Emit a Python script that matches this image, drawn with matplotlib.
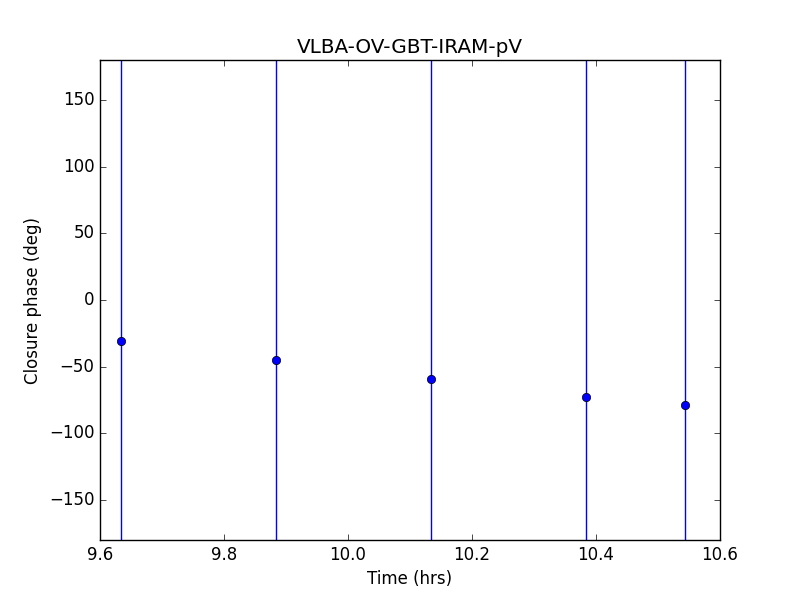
import matplotlib
matplotlib.use('Agg')
import matplotlib.pyplot as plt

# Closure phase data
times = [9.634, 9.884, 10.134, 10.384, 10.544]
phases = [-30.8, -45.0, -59.3, -72.8, -78.8]
errors = [400, 400, 400, 400, 400]

plt.style.use('classic')
fig = plt.figure(figsize=(8, 6), dpi=100, facecolor='white')
ax = fig.add_subplot(111)

# Error bars are huge, so they run through the whole y range
ax.errorbar(times, phases, yerr=errors, fmt='o', color='blue', ecolor='blue', capsize=0)

ax.set_xlim(9.6, 10.6)
ax.set_ylim(-180, 180)
ax.set_xticks([9.6, 9.8, 10.0, 10.2, 10.4, 10.6])
ax.set_yticks([-150, -100, -50, 0, 50, 100, 150])
ax.ticklabel_format(useOffset=False)

ax.set_xlabel('Time (hrs)')
ax.set_ylabel('Closure phase (deg)')
ax.set_title('VLBA-OV-GBT-IRAM-pV')

fig.savefig('out.png', dpi=100, facecolor='white')
